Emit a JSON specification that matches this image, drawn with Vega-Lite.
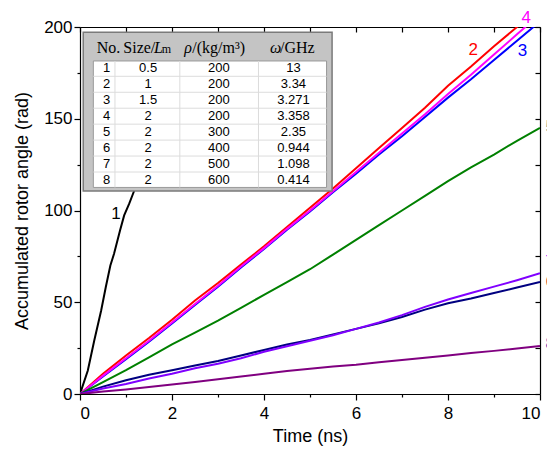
{
  "$schema": "https://vega.github.io/schema/vega-lite/v6.json",
  "width": 460,
  "height": 367,
  "autosize": "none",
  "padding": {"left": 80, "top": 27, "right": 7, "bottom": 56},
  "background": "white",
  "config": {
    "view": {"stroke": null},
    "axis": {
      "grid": false,
      "domainColor": "#000000",
      "domainWidth": 1.2,
      "tickColor": "#000000",
      "tickWidth": 1.2,
      "labelFont": "Liberation Sans",
      "labelFontSize": 17,
      "labelColor": "#000000",
      "titleFont": "Liberation Sans",
      "titleFontSize": 18,
      "titleFontWeight": "normal",
      "titleColor": "#000000"
    },
    "text": {"font": "Liberation Sans"}
  },
  "datasets": {
    "curves": [
      {"series": "1", "t": 0, "angle": 0}, {"series": "1", "t": 0.17, "angle": 12.8}, {"series": "1", "t": 0.31, "angle": 29.2},
      {"series": "1", "t": 0.46, "angle": 45.5}, {"series": "1", "t": 0.56, "angle": 58.2}, {"series": "1", "t": 0.66, "angle": 70},
      {"series": "1", "t": 0.74, "angle": 76.4}, {"series": "1", "t": 0.87, "angle": 89.1}, {"series": "1", "t": 0.96, "angle": 97.3},
      {"series": "1", "t": 1.07, "angle": 103.7}, {"series": "1", "t": 1.18, "angle": 110.9}, {"series": "1", "t": 1.26, "angle": 116},

      {"series": "2", "t": 0, "angle": 0}, {"series": "2", "t": 0.5, "angle": 11}, {"series": "2", "t": 1, "angle": 21},
      {"series": "2", "t": 1.5, "angle": 30.5}, {"series": "2", "t": 2, "angle": 40.5}, {"series": "2", "t": 2.5, "angle": 51},
      {"series": "2", "t": 3, "angle": 60.5}, {"series": "2", "t": 3.5, "angle": 70.5}, {"series": "2", "t": 4, "angle": 80.5},
      {"series": "2", "t": 4.5, "angle": 91}, {"series": "2", "t": 5, "angle": 101.5}, {"series": "2", "t": 5.5, "angle": 112},
      {"series": "2", "t": 6, "angle": 123}, {"series": "2", "t": 6.5, "angle": 134}, {"series": "2", "t": 7, "angle": 145},
      {"series": "2", "t": 7.5, "angle": 156}, {"series": "2", "t": 8, "angle": 168}, {"series": "2", "t": 8.5, "angle": 178.5},
      {"series": "2", "t": 9, "angle": 189.5}, {"series": "2", "t": 9.5, "angle": 200}, {"series": "2", "t": 10, "angle": 210},

      {"series": "3", "t": 0, "angle": 0}, {"series": "3", "t": 0.5, "angle": 9.5}, {"series": "3", "t": 1, "angle": 19},
      {"series": "3", "t": 1.5, "angle": 28.5}, {"series": "3", "t": 2, "angle": 38.5}, {"series": "3", "t": 2.5, "angle": 48.5},
      {"series": "3", "t": 3, "angle": 58.5}, {"series": "3", "t": 3.5, "angle": 69}, {"series": "3", "t": 4, "angle": 79},
      {"series": "3", "t": 4.5, "angle": 89.5}, {"series": "3", "t": 5, "angle": 99.5}, {"series": "3", "t": 5.5, "angle": 110},
      {"series": "3", "t": 6, "angle": 120}, {"series": "3", "t": 6.5, "angle": 130.5}, {"series": "3", "t": 7, "angle": 140.5},
      {"series": "3", "t": 7.5, "angle": 151}, {"series": "3", "t": 8, "angle": 161.5}, {"series": "3", "t": 8.5, "angle": 171.5},
      {"series": "3", "t": 9, "angle": 182}, {"series": "3", "t": 9.5, "angle": 192.5}, {"series": "3", "t": 10, "angle": 203},

      {"series": "4", "t": 0, "angle": 0}, {"series": "4", "t": 0.5, "angle": 10}, {"series": "4", "t": 1, "angle": 19.5},
      {"series": "4", "t": 1.5, "angle": 29}, {"series": "4", "t": 2, "angle": 39}, {"series": "4", "t": 2.5, "angle": 49},
      {"series": "4", "t": 3, "angle": 59}, {"series": "4", "t": 3.5, "angle": 69.5}, {"series": "4", "t": 4, "angle": 79.5},
      {"series": "4", "t": 4.5, "angle": 90}, {"series": "4", "t": 5, "angle": 100}, {"series": "4", "t": 5.5, "angle": 110.5},
      {"series": "4", "t": 6, "angle": 121}, {"series": "4", "t": 6.5, "angle": 131.5}, {"series": "4", "t": 7, "angle": 142},
      {"series": "4", "t": 7.5, "angle": 152.5}, {"series": "4", "t": 8, "angle": 163.5}, {"series": "4", "t": 8.5, "angle": 174},
      {"series": "4", "t": 9, "angle": 185}, {"series": "4", "t": 9.5, "angle": 196}, {"series": "4", "t": 10, "angle": 207},

      {"series": "5", "t": 0, "angle": 0}, {"series": "5", "t": 0.5, "angle": 6.5}, {"series": "5", "t": 1, "angle": 13},
      {"series": "5", "t": 1.5, "angle": 20}, {"series": "5", "t": 2, "angle": 27}, {"series": "5", "t": 2.5, "angle": 33.5},
      {"series": "5", "t": 3, "angle": 40}, {"series": "5", "t": 3.5, "angle": 47}, {"series": "5", "t": 4, "angle": 54},
      {"series": "5", "t": 4.5, "angle": 61}, {"series": "5", "t": 5, "angle": 68}, {"series": "5", "t": 5.5, "angle": 76},
      {"series": "5", "t": 6, "angle": 84}, {"series": "5", "t": 6.5, "angle": 92}, {"series": "5", "t": 7, "angle": 100},
      {"series": "5", "t": 7.5, "angle": 108}, {"series": "5", "t": 8, "angle": 116}, {"series": "5", "t": 8.5, "angle": 123.5},
      {"series": "5", "t": 9, "angle": 130.5}, {"series": "5", "t": 9.5, "angle": 138}, {"series": "5", "t": 10, "angle": 145},

      {"series": "6", "t": 0, "angle": 0}, {"series": "6", "t": 0.5, "angle": 4}, {"series": "6", "t": 1, "angle": 7.5},
      {"series": "6", "t": 1.5, "angle": 10.5}, {"series": "6", "t": 2, "angle": 13}, {"series": "6", "t": 2.5, "angle": 15.5},
      {"series": "6", "t": 3, "angle": 18}, {"series": "6", "t": 3.5, "angle": 21}, {"series": "6", "t": 4, "angle": 24},
      {"series": "6", "t": 4.5, "angle": 27}, {"series": "6", "t": 5, "angle": 29.5}, {"series": "6", "t": 5.5, "angle": 32.5},
      {"series": "6", "t": 6, "angle": 35.5}, {"series": "6", "t": 6.5, "angle": 38.5}, {"series": "6", "t": 7, "angle": 42},
      {"series": "6", "t": 7.5, "angle": 46}, {"series": "6", "t": 8, "angle": 49.5}, {"series": "6", "t": 8.5, "angle": 52},
      {"series": "6", "t": 9, "angle": 55}, {"series": "6", "t": 9.5, "angle": 58}, {"series": "6", "t": 10, "angle": 61},

      {"series": "7", "t": 0, "angle": 0}, {"series": "7", "t": 0.5, "angle": 3}, {"series": "7", "t": 1, "angle": 5.5},
      {"series": "7", "t": 1.5, "angle": 8.5}, {"series": "7", "t": 2, "angle": 11}, {"series": "7", "t": 2.5, "angle": 14},
      {"series": "7", "t": 3, "angle": 16.5}, {"series": "7", "t": 3.5, "angle": 19.5}, {"series": "7", "t": 4, "angle": 23},
      {"series": "7", "t": 4.5, "angle": 26}, {"series": "7", "t": 5, "angle": 29}, {"series": "7", "t": 5.5, "angle": 32},
      {"series": "7", "t": 6, "angle": 35.5}, {"series": "7", "t": 6.5, "angle": 39}, {"series": "7", "t": 7, "angle": 43},
      {"series": "7", "t": 7.5, "angle": 47.5}, {"series": "7", "t": 8, "angle": 51.5}, {"series": "7", "t": 8.5, "angle": 55},
      {"series": "7", "t": 9, "angle": 58.5}, {"series": "7", "t": 9.5, "angle": 62}, {"series": "7", "t": 10, "angle": 65.8},

      {"series": "8", "t": 0, "angle": 0}, {"series": "8", "t": 0.5, "angle": 1.3}, {"series": "8", "t": 1, "angle": 2.5},
      {"series": "8", "t": 1.5, "angle": 3.8}, {"series": "8", "t": 2, "angle": 5.2}, {"series": "8", "t": 2.5, "angle": 6.6},
      {"series": "8", "t": 3, "angle": 8}, {"series": "8", "t": 3.5, "angle": 9.5}, {"series": "8", "t": 4, "angle": 11},
      {"series": "8", "t": 4.5, "angle": 12.5}, {"series": "8", "t": 5, "angle": 13.8}, {"series": "8", "t": 5.5, "angle": 15},
      {"series": "8", "t": 6, "angle": 16}, {"series": "8", "t": 6.5, "angle": 17.3}, {"series": "8", "t": 7, "angle": 18.5},
      {"series": "8", "t": 7.5, "angle": 19.8}, {"series": "8", "t": 8, "angle": 21}, {"series": "8", "t": 8.5, "angle": 22.3},
      {"series": "8", "t": 9, "angle": 23.5}, {"series": "8", "t": 9.5, "angle": 24.8}, {"series": "8", "t": 10, "angle": 26.2}
    ],
    "params": [
      {"no": 1, "size": "0.5", "rho": "200", "omega": "13"},
      {"no": 2, "size": "1", "rho": "200", "omega": "3.34"},
      {"no": 3, "size": "1.5", "rho": "200", "omega": "3.271"},
      {"no": 4, "size": "2", "rho": "200", "omega": "3.358"},
      {"no": 5, "size": "2", "rho": "300", "omega": "2.35"},
      {"no": 6, "size": "2", "rho": "400", "omega": "0.944"},
      {"no": 7, "size": "2", "rho": "500", "omega": "1.098"},
      {"no": 8, "size": "2", "rho": "600", "omega": "0.414"}
    ],
    "one": [{}]
  },
  "layer": [
    {
      "layer": [
        {
          "data": {"name": "curves"},
          "mark": {"type": "line", "strokeWidth": 2, "clip": true},
          "encoding": {
            "x": {
              "field": "t", "type": "quantitative",
              "scale": {"domain": [0, 10], "nice": false, "zero": false},
              "axis": {"orient": "bottom", "values": [0, 2, 4, 6, 8, 10], "tickSize": 6, "labelPadding": 5, "title": "Time (ns)", "titlePadding": 6}
            },
            "y": {
              "field": "angle", "type": "quantitative",
              "scale": {"domain": [0, 200], "nice": false, "zero": false},
              "axis": {"orient": "left", "values": [0, 50, 100, 150, 200], "tickSize": 6, "labelPadding": 2, "title": "Accumulated rotor angle (rad)", "titlePadding": 12}
            },
            "color": {
              "field": "series", "type": "nominal",
              "scale": {"domain": ["1", "2", "3", "4", "5", "6", "7", "8"], "range": ["#000000", "#ff0000", "#0000ff", "#ff00ff", "#008000", "#000080", "#8000ff", "#800080"]},
              "legend": null
            }
          }
        },
        {
          "data": {"name": "one"},
          "mark": {"type": "text", "fontSize": 17, "color": "#000000", "baseline": "middle", "align": "center"},
          "encoding": {
            "x": {"datum": 0.78, "type": "quantitative", "axis": {"orient": "bottom", "values": [1, 3, 5, 7, 9], "tickSize": 3, "labels": false, "domain": false, "title": null}},
            "y": {"datum": 98.2, "type": "quantitative", "axis": {"orient": "left", "values": [25, 75, 125, 175], "tickSize": 3, "labels": false, "domain": false, "title": null}},
            "text": {"value": "1"}
          }
        },
        {
          "data": {"name": "one"},
          "mark": {"type": "text", "fontSize": 17, "color": "#ff0000", "baseline": "middle", "align": "center"},
          "encoding": {
            "x": {"datum": 8.55, "type": "quantitative", "axis": {"orient": "top", "values": [0, 1, 2, 3, 4, 5, 6, 7, 8, 9, 10], "tickSize": -5, "labels": false, "title": null}},
            "y": {"datum": 187.2, "type": "quantitative", "axis": {"orient": "right", "values": [0, 25, 50, 75, 100, 125, 150, 175, 200], "tickSize": -5, "labels": false, "title": null}},
            "text": {"value": "2"}
          }
        },
        {
          "data": {"name": "one"},
          "mark": {"type": "text", "fontSize": 17, "color": "#0000ff", "baseline": "middle", "align": "center"},
          "encoding": {
            "x": {"datum": 9.62, "type": "quantitative", "axis": null},
            "y": {"datum": 187, "type": "quantitative", "axis": null},
            "text": {"value": "3"}
          }
        },
        {
          "data": {"name": "one"},
          "mark": {"type": "text", "fontSize": 17, "color": "#ff00ff", "baseline": "middle", "align": "center"},
          "encoding": {
            "x": {"datum": 9.7, "type": "quantitative", "axis": null},
            "y": {"datum": 205, "type": "quantitative", "axis": null},
            "text": {"value": "4"}
          }
        },
        {
          "data": {"name": "one"},
          "mark": {"type": "text", "fontSize": 17, "color": "#008080", "baseline": "middle", "align": "left"},
          "encoding": {
            "x": {"datum": 10.12, "type": "quantitative", "axis": null},
            "y": {"datum": 145.4, "type": "quantitative", "axis": null},
            "text": {"value": "5"}
          }
        },
        {
          "data": {"name": "one"},
          "mark": {"type": "text", "fontSize": 17, "color": "#c04040", "baseline": "middle", "align": "left"},
          "encoding": {
            "x": {"datum": 10.12, "type": "quantitative", "axis": null},
            "y": {"datum": 61, "type": "quantitative", "axis": null},
            "text": {"value": "6"}
          }
        },
        {
          "data": {"name": "one"},
          "mark": {"type": "text", "fontSize": 17, "color": "#8000ff", "baseline": "middle", "align": "left"},
          "encoding": {
            "x": {"datum": 10.12, "type": "quantitative", "axis": null},
            "y": {"datum": 71.8, "type": "quantitative", "axis": null},
            "text": {"value": "7"}
          }
        },
        {
          "data": {"name": "one"},
          "mark": {"type": "text", "fontSize": 17, "color": "#3030c0", "baseline": "middle", "align": "left"},
          "encoding": {
            "x": {"datum": 10.12, "type": "quantitative", "axis": null},
            "y": {"datum": 27.4, "type": "quantitative", "axis": null},
            "text": {"value": "8"}
          }
        }
      ],
      "resolve": {"axis": {"x": "independent", "y": "independent"}}
    },
    {
      "layer": [
        {
          "data": {"name": "one"},
          "mark": {"type": "rect", "fill": "#c4c4c4", "stroke": "#7a7a7a", "strokeWidth": 1.5},
          "encoding": {
            "x": {"datum": 0.07, "type": "quantitative", "scale": {"domain": [0, 10], "nice": false, "zero": false}, "axis": null},
            "x2": {"datum": 5.48},
            "y": {"datum": -1.26, "type": "quantitative", "scale": {"domain": [-1.59, 21.42], "reverse": true, "nice": false, "zero": false}, "axis": null},
            "y2": {"datum": 8.69}
          }
        },
        {
          "data": {"name": "one"},
          "mark": {"type": "rect", "fill": "#ffffff", "stroke": "#999999", "strokeWidth": 1},
          "encoding": {
            "x": {"datum": 0.29, "type": "quantitative", "axis": null},
            "x2": {"datum": 5.36},
            "y": {"datum": 0.54, "type": "quantitative", "axis": null},
            "y2": {"datum": 8.47}
          }
        },
        {
          "data": {"name": "params"},
          "transform": [{"filter": "datum.no < 8"}],
          "mark": {"type": "rule", "color": "#dcdcdc", "strokeWidth": 1, "yOffset": 8},
          "encoding": {
            "x": {"datum": 0.29, "type": "quantitative", "axis": null},
            "x2": {"datum": 5.36},
            "y": {"field": "no", "type": "quantitative", "axis": null}
          }
        },
        {
          "data": {"values": [{"edge": 0.76}, {"edge": 2.17}, {"edge": 3.88}]},
          "mark": {"type": "rule", "color": "#dcdcdc", "strokeWidth": 1},
          "encoding": {
            "x": {"field": "edge", "type": "quantitative", "axis": null},
            "y": {"datum": 0.54, "type": "quantitative", "axis": null},
            "y2": {"datum": 8.47}
          }
        },
        {
          "data": {"name": "params"},
          "mark": {"type": "text", "fontSize": 13, "baseline": "middle", "align": "center", "color": "#000000"},
          "encoding": {
            "x": {"datum": 0.58, "type": "quantitative", "axis": null},
            "y": {"field": "no", "type": "quantitative", "axis": null},
            "text": {"field": "no"}
          }
        },
        {
          "data": {"name": "params"},
          "mark": {"type": "text", "fontSize": 13, "baseline": "middle", "align": "center", "color": "#000000"},
          "encoding": {
            "x": {"datum": 1.48, "type": "quantitative", "axis": null},
            "y": {"field": "no", "type": "quantitative", "axis": null},
            "text": {"field": "size"}
          }
        },
        {
          "data": {"name": "params"},
          "mark": {"type": "text", "fontSize": 13, "baseline": "middle", "align": "center", "color": "#000000"},
          "encoding": {
            "x": {"datum": 3.02, "type": "quantitative", "axis": null},
            "y": {"field": "no", "type": "quantitative", "axis": null},
            "text": {"field": "rho"}
          }
        },
        {
          "data": {"name": "params"},
          "mark": {"type": "text", "fontSize": 13, "baseline": "middle", "align": "center", "color": "#000000"},
          "encoding": {
            "x": {"datum": 4.64, "type": "quantitative", "axis": null},
            "y": {"field": "no", "type": "quantitative", "axis": null},
            "text": {"field": "omega"}
          }
        },
        {
          "data": {"name": "one"},
          "mark": {"type": "text", "font": "Liberation Serif", "fontSize": 16, "baseline": "alphabetic", "align": "left", "color": "#000000"},
          "encoding": {
            "x": {"datum": 0.363, "type": "quantitative", "axis": null},
            "y": {"datum": 0.04, "type": "quantitative", "axis": null},
            "text": {"value": "No."}
          }
        },
        {
          "data": {"name": "one"},
          "mark": {"type": "text", "font": "Liberation Serif", "fontSize": 16, "baseline": "alphabetic", "align": "left", "color": "#000000"},
          "encoding": {
            "x": {"datum": 0.941, "type": "quantitative", "axis": null},
            "y": {"datum": 0.04, "type": "quantitative", "axis": null},
            "text": {"value": "Size/"}
          }
        },
        {
          "data": {"name": "one"},
          "mark": {"type": "text", "font": "Liberation Serif", "fontSize": 16, "fontStyle": "italic", "baseline": "alphabetic", "align": "left", "color": "#000000"},
          "encoding": {
            "x": {"datum": 1.609, "type": "quantitative", "axis": null},
            "y": {"datum": 0.04, "type": "quantitative", "axis": null},
            "text": {"value": "L"}
          }
        },
        {
          "data": {"name": "one"},
          "mark": {"type": "text", "font": "Liberation Serif", "fontSize": 12, "baseline": "alphabetic", "align": "left", "color": "#000000"},
          "encoding": {
            "x": {"datum": 1.776, "type": "quantitative", "axis": null},
            "y": {"datum": 0.04, "type": "quantitative", "axis": null},
            "text": {"value": "m"}
          }
        },
        {
          "data": {"name": "one"},
          "mark": {"type": "text", "font": "Liberation Serif", "fontSize": 16, "fontStyle": "italic", "baseline": "alphabetic", "align": "left", "color": "#000000"},
          "encoding": {
            "x": {"datum": 2.267, "type": "quantitative", "axis": null},
            "y": {"datum": 0.04, "type": "quantitative", "axis": null},
            "text": {"value": "ρ"}
          }
        },
        {
          "data": {"name": "one"},
          "mark": {"type": "text", "font": "Liberation Serif", "fontSize": 16, "baseline": "alphabetic", "align": "left", "color": "#000000"},
          "encoding": {
            "x": {"datum": 2.441, "type": "quantitative", "axis": null},
            "y": {"datum": 0.04, "type": "quantitative", "axis": null},
            "text": {"value": "/(kg/m³)"}
          }
        },
        {
          "data": {"name": "one"},
          "mark": {"type": "text", "font": "Liberation Serif", "fontSize": 16, "fontStyle": "italic", "baseline": "alphabetic", "align": "left", "color": "#000000"},
          "encoding": {
            "x": {"datum": 4.13, "type": "quantitative", "axis": null},
            "y": {"datum": 0.04, "type": "quantitative", "axis": null},
            "text": {"value": "ω"}
          }
        },
        {
          "data": {"name": "one"},
          "mark": {"type": "text", "font": "Liberation Serif", "fontSize": 16, "baseline": "alphabetic", "align": "left", "color": "#000000"},
          "encoding": {
            "x": {"datum": 4.348, "type": "quantitative", "axis": null},
            "y": {"datum": 0.04, "type": "quantitative", "axis": null},
            "text": {"value": "/GHz"}
          }
        }
      ]
    }
  ],
  "resolve": {"scale": {"x": "independent", "y": "independent"}}
}
